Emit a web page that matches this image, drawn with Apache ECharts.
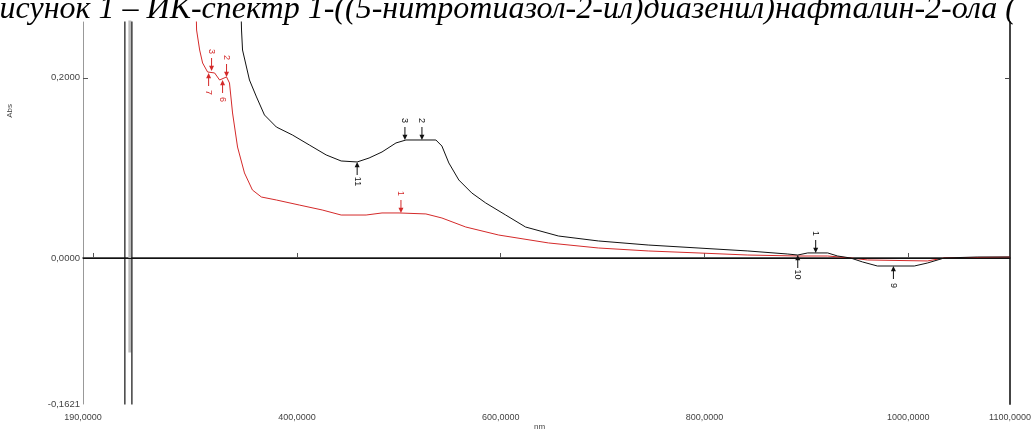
<!DOCTYPE html>
<html><head><meta charset="utf-8">
<script src="https://cdn.jsdelivr.net/npm/echarts@6/dist/echarts.min.js"></script>
<style>html,body{margin:0;padding:0;background:#fff}#c{width:1034px;height:430px}</style>
</head><body><div id="c"></div>
<script>
// ---- data (wavelength nm, absorbance) ----
const titleText = 'Рисунок 1 – ИК-спектр 1-((5-нитротиазол-2-ил)диазенил)нафталин-2-ола (';
const xLabelValues = [190, 400, 600, 800, 1000, 1100];
const xTickValues = [200, 400, 600, 800, 1000];
const yLabelValues = [-0.1621, 0, 0.2];
const xMin = 190, xMax = 1100, yMin = -0.1621, yMax = 0.262;

const blackSpectrum = [
  [344.6,0.30],[345.6,0.2531],[346.6,0.2309],[353.4,0.1976],[360.3,0.1788],[368.1,0.1588],
  [379.8,0.1454],[395.5,0.1366],[412.1,0.1255],[428.7,0.1144],[443.4,0.1077],[459.1,0.1066],
  [470.8,0.1110],[483.5,0.1177],[497.2,0.1277],[507.0,0.1310],[536.4,0.1310],[542.3,0.1243],
  [549.1,0.1055],[558.9,0.0866],[571.6,0.0722],[585.3,0.0611],[604.9,0.0477],[624.4,0.0344],
  [656.7,0.0244],[695.9,0.0189],[744.8,0.0144],[793.7,0.0111],[842.6,0.0078],[881.8,0.0044],
  [891.6,0.0033],[901.4,0.0056],[921.0,0.0056],[930.7,0.0022],[943.4,0.0],[955.2,-0.0044],
  [969.8,-0.0089],[1006.0,-0.0089],[1018.8,-0.0056],[1035.4,0.0],[1067.7,0.0011],[1100,0.0011]
];
const redSpectrum = [
  [300.6,0.30],[301.5,0.2531],[304.5,0.2309],[307.4,0.2165],[312.3,0.2065],[319.2,0.2054],
  [324.1,0.1976],[330.9,0.2010],[333.8,0.1943],[336.8,0.1610],[341.7,0.1232],[348.5,0.0944],
  [356.3,0.0755],[365.1,0.0677],[379.8,0.0644],[402.3,0.0588],[424.8,0.0533],[443.4,0.0477],
  [467.9,0.0477],[483.5,0.0500],[500.2,0.0500],[526.6,0.0489],[542.3,0.0444],[565.7,0.0344],
  [598.0,0.0255],[646.9,0.0167],[695.9,0.0111],[744.8,0.0078],[793.7,0.0056],[842.6,0.0033],
  [891.6,0.0022],[921.0,0.0022],[943.4,0.0],[960.1,-0.0022],[1018.8,-0.0033],[1035.4,0.0],[1100,0.0011]
];
const spikeA = [[231.1,-0.3],[231.1,0.4]];
const spikeB = [[238.0,-0.3],[238.0,0.4]];
const spikeC = [[236.0,-0.105],[236.0,0.4]];

// peak markers: [label, x, y, direction ('down' = arrow from above)]
const blackMarks = [['11',459.1,0.1066,'up'],['3',506.0,0.1310,'down'],['2',522.7,0.1310,'down'],
  ['1',909.2,0.0056,'down'],['10',891.6,0.0033,'up'],['9',985.5,-0.0089,'up']];
const redMarks = [['7',313.3,0.2054,'up'],['3',316.2,0.2076,'down'],['6',327.0,0.1976,'up'],
  ['2',330.9,0.2010,'down'],['1',502.1,0.0500,'down']];

const fmt = v => v.toFixed(4).replace('.', ',');
const ARROW = 'path://M4,0 L6,0 L6,12 L10,12 L5,20 L0,12 L4,12 Z';
function marks(list, color) {
  return list.map(m => {
    const down = m[3] === 'down';
    return {
      coord: [m[1], m[2]],
      symbol: ARROW,
      symbolSize: [5, 13],
      symbolKeepAspect: false,
      symbolRotate: down ? 0 : 180,
      symbolOffset: [0, down ? -6.5 : 6.5],
      itemStyle: { color: color },
      label: { show: true, formatter: m[0], rotate: -90, color: color, fontSize: 9,
        fontFamily: 'Liberation Sans', position: 'inside', offset: [down ? -13 : 13, 0] }
    };
  });
}

const chart = echarts.init(document.getElementById('c'), null, { renderer: 'canvas' });
chart.setOption({
  animation: false,
  backgroundColor: '#fff',
  grid: { left: 83, right: 21, top: 22, bottom: 26 },
  xAxis: {
    type: 'value', min: xMin, max: xMax,
    axisLine: { show: true, lineStyle: { color: '#222', width: 1.5 } },
    axisTick: { show: true, inside: true, length: 5, customValues: xTickValues, lineStyle: { color: '#555' } },
    axisLabel: { customValues: xLabelValues, formatter: fmt, fontSize: 9, color: '#444',
      fontFamily: 'Liberation Sans', margin: 9 },
    splitLine: { show: false }
  },
  yAxis: [{
    type: 'value', min: yMin, max: yMax, position: 'left',
    axisLine: { show: true, lineStyle: { color: '#999', width: 1 } },
    axisTick: { show: true, inside: true, length: 5, customValues: [0.2], lineStyle: { color: '#555' } },
    axisLabel: { customValues: yLabelValues, formatter: fmt, fontSize: 9.5, color: '#444',
      fontFamily: 'Liberation Sans', margin: 3 },
    splitLine: { show: false }
  }, {
    type: 'value', min: yMin, max: yMax, position: 'right',
    axisLine: { show: true, lineStyle: { color: '#444', width: 2 } },
    axisTick: { show: true, inside: true, length: 5, customValues: [0.2], lineStyle: { color: '#444' } },
    axisLabel: { show: false },
    splitLine: { show: false }
  }],
  series: [
    { type: 'line', data: spikeC, symbol: 'none', lineStyle: { color: '#bbb', width: 3 }, silent: true },
    { type: 'line', data: spikeA, symbol: 'none', lineStyle: { color: '#111', width: 1.2 }, silent: true },
    { type: 'line', data: spikeB, symbol: 'none', lineStyle: { color: '#111', width: 1.2 }, silent: true },
    { name: 'red', type: 'line', data: redSpectrum, symbol: 'none', lineStyle: { color: '#d42a2a', width: 1 },
      markPoint: { data: marks(redMarks, '#d42a2a'), silent: true } },
    { name: 'black', type: 'line', data: blackSpectrum, symbol: 'none', lineStyle: { color: '#111', width: 1 },
      markPoint: { data: marks(blackMarks, '#111'), silent: true },
      markLine: { symbol: 'none', silent: true, label: { show: false },
        lineStyle: { color: '#111', width: 1.2, type: 'solid' }, data: [{ yAxis: 0 }] } }
  ],
  graphic: [
    { type: 'text', left: 6, top: 104, rotation: Math.PI / 2,
      style: { text: 'Abs', fontSize: 8, fill: '#444', fontFamily: 'Liberation Sans' } },
    { type: 'text', left: 534, top: 423,
      style: { text: 'nm', fontSize: 8, fill: '#444', fontFamily: 'Liberation Sans' } },
    { type: 'text', x: -20, y: 26, z: 100,
      style: { text: titleText, fontSize: 32, fontStyle: 'italic', fontFamily: 'Liberation Serif',
        fill: '#000', verticalAlign: 'bottom' } }
  ]
});
</script></body></html>
